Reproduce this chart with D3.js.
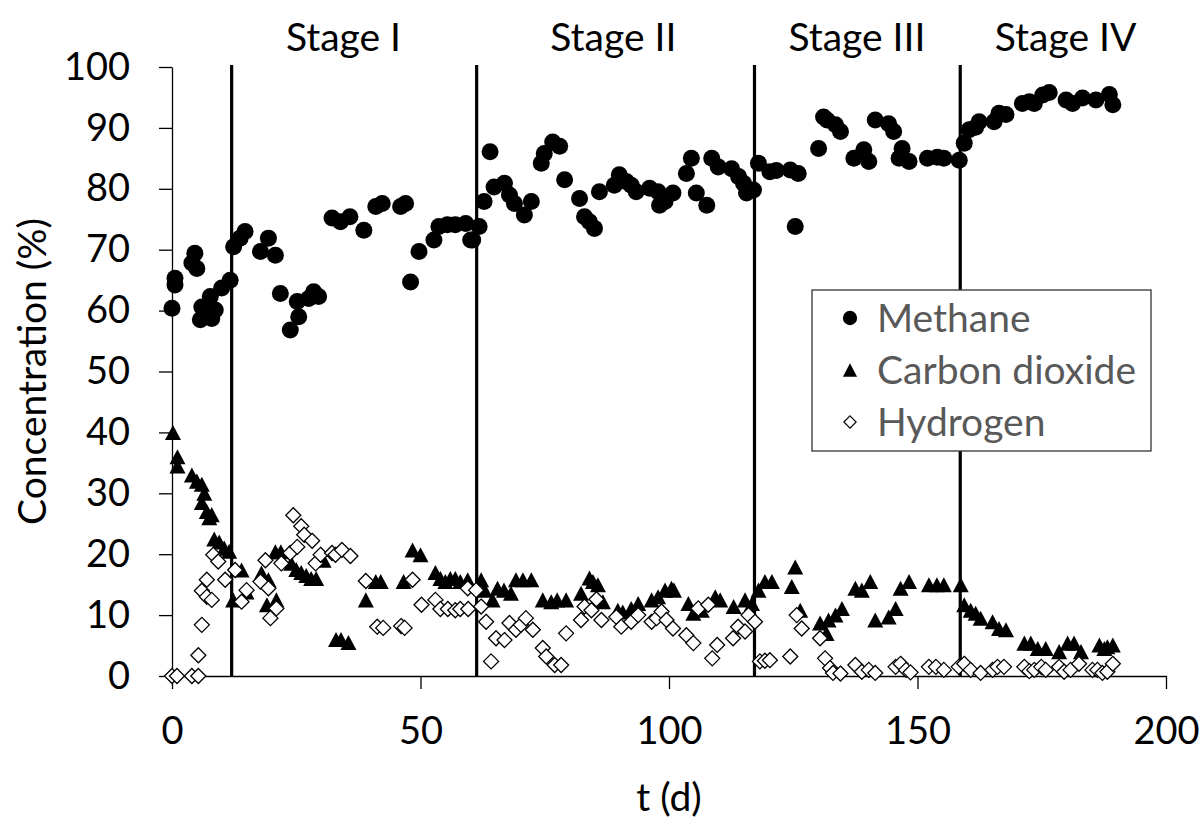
<!DOCTYPE html>
<html><head><meta charset="utf-8">
<script src="https://cdn.jsdelivr.net/npm/d3@7"></script>
<style>
body{margin:0;background:#fff}
svg{display:block}
text{font-family:Lato,"Open Sans",sans-serif}
</style>
</head><body>
<svg id="chart" width="1203" height="831"></svg>
<script>
// ---------- data ----------
const methaneDay = [0,0.6,0.6,4,4.6,5,5.7,6,7.7,8,8.7,10,11.7,12.4,13.7,14.7,17.8,19.4,20.8,21.8,23.8,25.2,25.5,27.5,28.5,29.5,32.2,33.9,35.8,38.6,41,42.3,46,47,48,49.7,52.7,53.7,55.4,57,59.1,60.1,60.5,61.8,62.8,64,64.8,66.9,67.9,68.9,70.9,72.3,74.3,74.9,76.6,78,79,82,83,84,85,86,89,90,91.4,92.4,93.4,96.1,97.8,98.1,99.2,100.8,103.5,104.5,105.5,107.6,108.6,109.9,112.6,114,115,115.6,117,118,120.3,121.6,124.4,125.4,126,130.1,131.1,131.8,133.5,134.5,137.2,139.2,140.2,141.5,144.2,145.2,146.3,146.9,148.3,152,154,155.3,158.4,159.4,160.4,161.7,162.4,165.4,166.4,167.8,171.1,172.5,173.5,175.2,176.5,179.9,181.2,183.2,185.9,188.6,189.3];
const methaneVal = [60.4,65.3,64.2,67.8,69.4,66.9,58.5,60.6,62.3,58.7,60.1,63.7,65,70.5,71.9,73,69.7,71.9,69.1,62.8,56.8,61.5,59,62,63.1,62.3,75.2,74.6,75.4,73.2,77.1,77.6,77.1,77.6,64.7,69.7,71.6,73.8,74.1,74.1,74.3,71.6,71.6,73.8,77.9,86.1,80.3,80.9,79,77.6,75.7,77.9,84.2,85.8,87.7,87,81.5,78.4,75.4,74.6,73.5,79.5,80.6,82.3,81.2,80.6,79.5,80.1,79.5,77.3,77.9,79.3,82.5,85,79.3,77.3,85,83.6,83.3,82,80.9,79.3,79.8,84.2,82.8,83,83.1,73.8,82.5,86.6,91.8,91.3,90.5,89.4,85,86.4,84.5,91.3,90.7,89.4,85,86.6,84.5,85,85.2,85,84.7,87.5,89.7,90.1,91,91,92.4,92.2,94,94.3,94,95.4,95.8,94.6,94,94.9,94.6,95.5,93.8];

const co2Day = [0.2,1.1,1.1,4,5,6,6.5,6,7,7.5,8,8.5,9.5,10.5,11.5,12.3,14,15,18,19.4,19.1,21,20.8,21.9,24,25,26,27,28,29,30.5,33,34,35.5,39,41,42,46.6,48.4,50,53,54,55,56,57,58,59.5,62.2,62.9,64.5,65.5,66.8,68.2,69.2,70.6,72.3,74.6,76.3,77.5,79.3,82.3,84,84.7,85.7,86.7,89.7,90.7,92.4,93.8,96.5,97.8,99.2,100.5,101,103.9,104.9,106.6,109.3,110.3,113,115.3,116.7,118,119.3,120.7,124.7,125.4,126.4,130.4,131.7,132.1,133.5,134.8,137.5,138.8,140.5,141.5,144.2,145.6,146.6,148.3,152.3,153.9,155.3,158.7,159.4,160.7,161.7,162.7,165.1,166.4,167.8,171.5,172.8,174.2,175.8,178.5,180.2,181.5,182.9,186.6,187.6,188.2,189.3];
const co2Val = [40,36,34.5,33,32,31.5,30,28.5,27,26,26.5,22.5,22,21,20.5,12.5,17.4,13.8,16.9,15.8,11.7,12.5,20.4,20.4,18.5,17.5,17,16.5,16,16,19,6,6,5.5,12.5,15.5,15.5,15.5,20.7,19.9,17,16,15.5,16,16,15.5,15.8,15.8,14.1,12.5,14.4,14.1,13.6,15.8,15.8,15.8,12.5,12.2,12.5,12.5,13.6,16.1,15.5,15,12.2,10.8,10.5,11.1,11.9,12.5,13,14.1,14.4,14.1,11.9,10.3,10.8,13,12.5,11.4,12.5,11.9,14.1,15.5,15.5,14.7,17.9,10.8,8.7,7,9.2,10,11.1,14.4,14.1,15.5,9.2,9.7,11.1,14.4,15.5,15,15,15,15,11.7,10.8,10.3,9.5,8.9,7.8,7.6,5.4,5.4,4.5,4.5,4,5.4,5.4,4,5.1,4.5,4.8,5.1];

const h2Day = [0,1,4,5.3,5.3,6,6,7,8,7,8.3,9.3,10.7,12.7,14,15,17.8,18.8,19.4,19.8,21,22,23.8,24.4,25.2,26,26.6,28.2,28.9,29.9,32.2,32.9,34.2,35.9,39,41.3,42.5,46.1,46.8,48.4,50.2,53,54,55.5,57,58,59.5,59.6,61.2,62.2,63.2,64.2,65.2,66.9,67.9,69.2,70.2,71.2,72.6,74.6,75.3,77,78.3,79.3,82.3,83,84.4,85.4,86.4,89.4,90.4,92.4,93.8,96.5,97.5,98.5,99.5,100.8,103.5,104.9,105.9,107.9,108.7,109.7,112.9,113.9,115.3,116,117.3,118.3,119.3,120.3,124.4,125.7,126.7,130.4,131.4,132.4,133,134.5,137.5,138.8,140.2,141.5,145.6,146.6,147.7,148.6,152.3,153.7,155.3,158.3,159.4,160.7,162.7,165.1,166.1,167.4,171.5,172.5,173.5,174.9,175.8,178.5,179.5,180.8,182.5,185.2,186.2,187.2,188.2,189.3];
const h2Val = [0,0,0,0,3.4,8.4,14,13,12.5,15.8,19.9,18.8,15.8,17.4,12.2,14.1,15.5,19,14.4,9.5,11.1,18.5,20.2,26.4,21.2,24.6,23.2,22.2,18.5,19.9,20.2,19.9,20.7,19.7,15.6,8.1,7.9,8.2,7.9,15.8,11.7,12.5,11,11,10.8,11,14.4,11,14.1,11.4,8.9,2.4,6.2,5.9,8.7,7.6,8.4,9.5,7.6,4.6,3.2,1.8,1.8,7,9.2,11.4,10.8,12.6,9.2,9.7,8.1,8.9,10,8.9,9.5,10.6,9.2,7.8,6.7,5.4,11.1,11.7,2.9,5.1,6.2,8.1,7.3,10,8.9,2.4,2.5,2.6,3.2,10,7.8,6.2,2.9,1.3,0.5,0.4,1.8,0.7,1,0.5,1.5,2,1,0.6,1.5,1.5,1,1.5,2,1,0.5,1,1.5,1.5,1.5,0.8,1,1.5,1,1.5,0.7,1,2,1,1,0.5,0.7,2];

const stageBoundaries = [12, 61.3, 117.2, 158.6];
const stageLabels = ["Stage I", "Stage II", "Stage III", "Stage IV"];
const stageLabelDays = [34.5, 88.8, 137.8, 179.8];
const xTicks = [0, 50, 100, 150, 200];
const yTicks = [0, 10, 20, 30, 40, 50, 60, 70, 80, 90, 100];
const legendLabels = ["Methane", "Carbon dioxide", "Hydrogen"];

// ---------- layout ----------
const svg = d3.select("#chart");
const x = d3.scaleLinear().domain([0, 200]).range([172, 1166]);
const y = d3.scaleLinear().domain([0, 100]).range([676, 67]);
const TICKFONT = 38;
const FONT = 39;

// custom symbol types
const triangle = { draw(ctx, size) { const w = Math.sqrt(size); const h = w * 0.94;
  ctx.moveTo(0, -h / 2); ctx.lineTo(w / 2, h / 2); ctx.lineTo(-w / 2, h / 2); ctx.closePath(); } };
const diamond = { draw(ctx, size) { const d = Math.sqrt(size) / 2;
  ctx.moveTo(0, -d); ctx.lineTo(d, 0); ctx.lineTo(0, d); ctx.lineTo(-d, 0); ctx.closePath(); } };

const series = [
  { name: legendLabels[0], day: methaneDay, val: methaneVal, type: d3.symbolCircle, size: 227, lsize: 160, fill: "#000", stroke: "none" },
  { name: legendLabels[1], day: co2Day, val: co2Val, type: triangle, size: 256, lsize: 200, fill: "#000", stroke: "none" },
  { name: legendLabels[2], day: h2Day, val: h2Val, type: diamond, size: 225, lsize: 150, fill: "#fff", stroke: "#000" }
];

// y axis
const yAxis = svg.append("g").attr("transform", `translate(${x(0)},0)`)
  .call(d3.axisLeft(y).tickValues(yTicks).tickSize(13).tickSizeOuter(0).tickPadding(29));
yAxis.select(".domain").attr("stroke", "#000").attr("stroke-width", 1.3);
yAxis.selectAll(".tick line").attr("stroke", "#000").attr("stroke-width", 1.3);
yAxis.selectAll(".tick text").attr("font-size", TICKFONT).attr("font-family", "Lato").attr("fill", "#000");

// x axis
const xAxis = svg.append("g").attr("transform", `translate(0,${y(0)})`)
  .call(d3.axisBottom(x).tickValues(xTicks).tickSize(13).tickSizeOuter(0).tickPadding(28));
xAxis.select(".domain").attr("stroke", "#000").attr("stroke-width", 1.3);
xAxis.selectAll(".tick line").attr("stroke", "#000").attr("stroke-width", 1.3);
xAxis.selectAll(".tick text").attr("font-size", TICKFONT).attr("font-family", "Lato").attr("fill", "#000");

// stage lines
svg.append("g").selectAll("line").data(stageBoundaries).join("line")
  .attr("x1", d => x(d)).attr("x2", d => x(d))
  .attr("y1", y(100) - 2).attr("y2", y(0))
  .attr("stroke", "#000").attr("stroke-width", 3.2);

// points
series.forEach(s => {
  const sym = d3.symbol().type(s.type).size(s.size);
  svg.append("g").selectAll("path").data(s.day.map((d, i) => [d, s.val[i]])).join("path")
    .attr("d", sym)
    .attr("transform", d => `translate(${x(d[0])},${y(d[1])})`)
    .attr("fill", s.fill).attr("stroke", s.stroke).attr("stroke-width", 1.3);
});

// stage labels
svg.append("g").selectAll("text").data(stageLabels).join("text")
  .attr("x", (d, i) => x(stageLabelDays[i])).attr("y", 51)
  .attr("text-anchor", "middle").attr("font-size", FONT).attr("fill", "#000")
  .text(d => d);

// axis titles
svg.append("text").attr("x", x(100)).attr("y", 811).attr("text-anchor", "middle")
  .attr("font-size", FONT).attr("fill", "#000").text("t (d)");
svg.append("text").attr("transform", `translate(46,${(y(0) + y(100)) / 2}) rotate(-90)`)
  .attr("text-anchor", "middle").attr("font-size", FONT).attr("fill", "#000").text("Concentration (%)");

// legend
const lg = svg.append("g");
lg.append("rect").attr("x", 812).attr("y", 290).attr("width", 339).attr("height", 161)
  .attr("fill", "#fff").attr("stroke", "#333").attr("stroke-width", 1.3);
const rowY = [318, 370, 422];
series.forEach((s, i) => {
  lg.append("path").attr("d", d3.symbol().type(s.type).size(s.lsize))
    .attr("transform", `translate(850,${rowY[i]})`)
    .attr("fill", s.fill).attr("stroke", s.stroke).attr("stroke-width", 1.2);
  lg.append("text").attr("x", 877).attr("y", rowY[i]).attr("dy", "0.35em")
    .attr("font-size", FONT).attr("fill", "#595959").text(s.name);
});
</script>
</body></html>
